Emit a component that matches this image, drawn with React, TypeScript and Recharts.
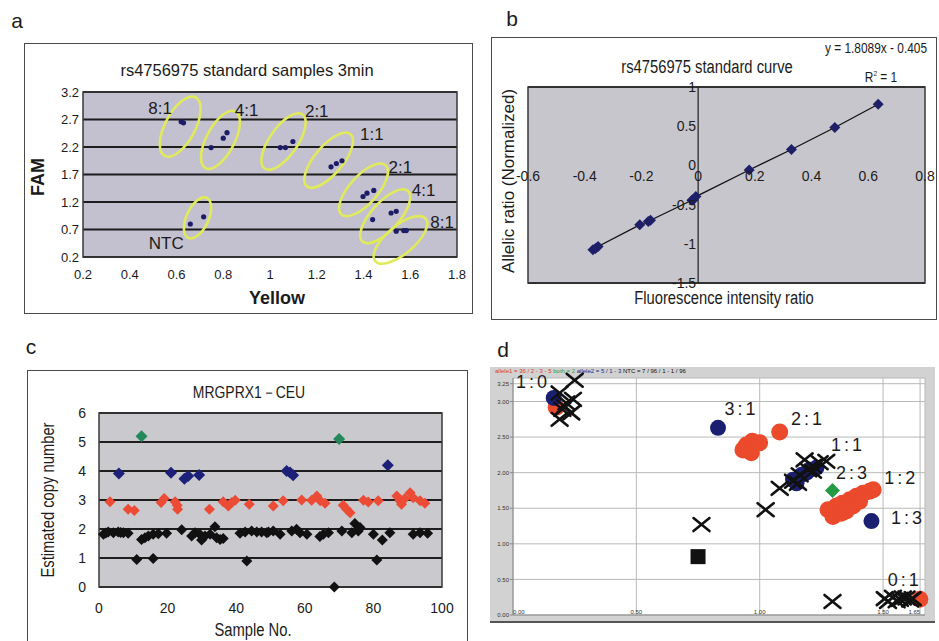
import React from "react";
import {
  ScatterChart,
  Scatter,
  XAxis,
  YAxis,
  CartesianGrid,
  ReferenceArea,
  ReferenceLine,
  ReferenceDot,
} from "recharts";

// ── panel a: standard samples, Yellow vs FAM ──
const A_YELLOW = [0.62, 0.63, 0.748, 0.8, 0.816, 1.044, 1.066, 1.098, 1.261, 1.284, 1.308, 1.398, 1.415, 1.444, 1.439, 1.518, 1.54, 1.54, 1.572, 1.583, 0.659, 0.716];
const A_FAM = [2.66, 2.64, 2.19, 2.36, 2.46, 2.19, 2.19, 2.3, 1.84, 1.9, 1.95, 1.3, 1.36, 1.41, 0.88, 1.0, 1.03, 0.67, 0.68, 0.68, 0.8, 0.93];
const A_GROUPS = ["8:1", "4:1", "2:1", "1:1", "2:1", "4:1", "8:1", "NTC"];
const A_GROUP_X = [0.616, 0.788, 1.058, 1.251, 1.4, 1.493, 1.558, 0.69];
const A_GROUP_Y = [2.57, 2.33, 2.3, 1.96, 1.42, 0.94, 0.51, 0.91];
const A_LABEL_X = [0.53, 0.9, 1.2, 1.436, 1.558, 1.657, 1.736, 0.556];
const A_LABEL_Y = [2.9, 2.87, 2.84, 2.42, 1.83, 1.41, 0.83, 0.45];
const A_XTICKS = [0.2, 0.4, 0.6, 0.8, 1, 1.2, 1.4, 1.6, 1.8];
const A_YTICKS = [0.2, 0.7, 1.2, 1.7, 2.2, 2.7, 3.2];

// ── panel b: standard curve ──
const B_X = [-0.371, -0.362, -0.353, -0.206, -0.176, -0.168, -0.022, -0.018, -0.008, 0.18, 0.329, 0.482, 0.635];
const B_Y = [-1.076, -1.06, -1.034, -0.758, -0.716, -0.7, -0.445, -0.44, -0.398, -0.059, 0.203, 0.483, 0.78];
const B_XTICKS = [-0.6, -0.4, -0.2, 0, 0.2, 0.4, 0.6, 0.8];
const B_YTICKS = [-1.5, -1, -0.5, 0, 0.5, 1];

// ── panel c: MRGPRX1 copy number, CEU ──
const C_CN2_X = [1.3, 2.0, 2.7, 4.2, 5.6, 6.3, 7.1, 8.5, 11.0, 12.4, 13.4, 14.4, 15.8, 15.8, 17.3, 19.7, 24.1, 27.0, 28.0, 29.4, 29.9, 30.9, 32.4, 33.8, 34.3, 35.3, 36.2, 41.1, 42.6, 43.1, 44.5, 46.0, 47.4, 48.9, 49.4, 50.8, 52.8, 56.2, 57.6, 58.6, 60.6, 64.4, 65.4, 66.9, 68.6, 70.8, 73.7, 74.6, 75.6, 76.1, 80.0, 81.0, 82.6, 84.8, 91.6, 93.6, 95.8];
const C_CN2_Y = [1.82, 1.86, 1.9, 1.87, 1.9, 1.88, 1.87, 1.85, 0.95, 1.64, 1.7, 1.76, 1.82, 0.98, 1.84, 1.85, 1.97, 1.76, 1.87, 1.82, 1.62, 1.76, 1.82, 2.08, 1.7, 1.64, 1.67, 1.85, 1.9, 0.9, 1.93, 1.9, 1.9, 1.87, 1.9, 1.93, 1.82, 1.93, 1.99, 1.87, 1.82, 1.74, 1.82, 1.87, 0, 1.93, 1.87, 2.19, 1.93, 2.05, 1.82, 0.93, 1.62, 1.87, 1.82, 1.87, 1.85];
const C_CN3_X = [3.2, 8.5, 10.3, 18.1, 19.0, 22.2, 22.8, 22.9, 32.2, 36.2, 37.7, 38.7, 39.7, 43.8, 50.8, 53.7, 59.1, 62.0, 63.5, 64.5, 65.9, 71.2, 72.2, 73.2, 77.1, 78.5, 81.4, 86.8, 87.7, 88.2, 89.2, 90.7, 91.6, 93.6, 95.0];
const C_CN3_Y = [2.94, 2.68, 2.64, 2.91, 3.05, 2.94, 2.82, 2.68, 2.68, 2.94, 2.79, 2.91, 2.99, 2.85, 2.79, 2.97, 3.0, 2.99, 3.14, 2.97, 2.89, 2.82, 2.68, 2.56, 2.99, 2.93, 2.97, 3.14, 2.97, 2.85, 3.05, 3.25, 3.08, 2.97, 2.89];
const C_CN4_X = [5.8, 21.0, 24.9, 26.0, 29.2, 54.7, 55.7, 56.6, 84.2];
const C_CN4_Y = [3.91, 3.94, 3.73, 3.83, 3.86, 4.0, 3.95, 3.85, 4.2];
const C_CN5_X = [12.4, 70.0];
const C_CN5_Y = [5.2, 5.1];
const C_XTICKS = [0, 20, 40, 60, 80, 100];
const C_YTICKS = [0, 1, 2, 3, 4, 5, 6];

// ── panel d: genotyping cluster plot ──
const D_CROSS_X = [0.189, 0.25, 0.216, 0.189, 0.236, 0.2, 0.243, 0.21, 0.764, 1.024, 1.081, 1.135, 1.162, 1.196, 1.216, 1.243, 1.27, 1.182, 1.216, 1.155, 1.295, 1.507, 1.52, 1.54, 1.555, 1.568, 1.58, 1.595, 1.61, 1.62];
const D_CROSS_Y = [3.12, 3.3, 2.98, 2.75, 2.84, 2.89, 3.03, 2.93, 1.27, 1.48, 1.78, 1.88, 1.97, 2.04, 2.09, 2.14, 2.16, 2.18, 2.02, 1.85, 0.19, 0.23, 0.19, 0.25, 0.2, 0.22, 0.24, 0.24, 0.21, 0.23];
const D_BLUE_X = [0.165, 0.831, 1.135, 1.17, 1.203, 1.23, 1.149, 1.19, 1.453];
const D_BLUE_Y = [3.05, 2.63, 1.9, 1.97, 2.04, 2.07, 1.85, 2.0, 1.32];
const D_RED_X = [0.175, 0.946, 0.97, 0.966, 0.932, 1.0, 1.081, 1.277, 1.311, 1.335, 1.365, 1.392, 1.419, 1.446, 1.46, 1.297, 1.331, 1.378, 1.351, 1.405, 1.649];
const D_RED_Y = [2.92, 2.39, 2.44, 2.28, 2.32, 2.42, 2.57, 1.48, 1.53, 1.57, 1.62, 1.67, 1.71, 1.74, 1.76, 1.385, 1.43, 1.53, 1.46, 1.6, 0.22];
const D_GREEN_X = [1.295];
const D_GREEN_Y = [1.75];
const D_NTC_X = [0.75];
const D_NTC_Y = [0.82];
const D_LABELS = ["1:0", "3:1", "2:1", "1:1", "2:3", "1:2", "1:3", "0:1"];
const D_LABEL_X = [0.081, 0.926, 1.196, 1.358, 1.378, 1.574, 1.601, 1.588];
const D_LABEL_Y = [3.27, 2.89, 2.75, 2.39, 2.0, 1.92, 1.36, 0.49];
const D_XTICKS = [0, 0.5, 1, 1.5, 1.65];
const D_YTICKS = [0, 0.5, 1, 1.5, 2, 2.5, 3, 3.25];

const SANS = "'Liberation Sans', Arial, sans-serif";
const INK = "#1b1b1b";
const NARROW = 0.82; // horizontal squeeze for the condensed Excel labels

// ellipse outline sizes for panel a groups (same order as A_GROUPS)
const ELLIPSE_STYLE = [
  { rx: 15, ry: 33, rot: 28 },
  { rx: 14, ry: 32, rot: 28 },
  { rx: 14, ry: 33, rot: 35 },
  { rx: 14, ry: 34, rot: 40 },
  { rx: 14, ry: 33, rot: 42 },
  { rx: 14, ry: 34, rot: 42 },
  { rx: 14, ry: 33, rot: 50 },
  { rx: 11, ry: 22, rot: 25 },
];

const zip = (xs: number[], ys: number[]) => xs.map((x, i) => ({ x, y: ys[i] }));

const dot = (color: string, r: number) => (p: any) => (
  <circle cx={p.cx} cy={p.cy} r={r} fill={color} />
);

const diamond = (color: string, s: number) => (p: any) => (
  <polygon
    points={`${p.cx},${p.cy - s} ${p.cx + s},${p.cy} ${p.cx},${p.cy + s} ${p.cx - s},${p.cy}`}
    fill={color}
  />
);

const cross = (p: any) => (
  <g stroke="#111" strokeWidth={2.6} strokeLinecap="round">
    <line x1={p.cx - 8} y1={p.cy - 6.5} x2={p.cx + 8} y2={p.cy + 6.5} />
    <line x1={p.cx - 8} y1={p.cy + 6.5} x2={p.cx + 8} y2={p.cy - 6.5} />
  </g>
);

const square = (p: any) => (
  <rect x={p.cx - 7.5} y={p.cy - 7.5} width={15} height={15} fill="#111" />
);

const ellipse = (p: any) => {
  const st = ELLIPSE_STYLE[p.payload.k];
  return (
    <ellipse
      cx={p.cx}
      cy={p.cy}
      rx={st.rx}
      ry={st.ry}
      transform={`rotate(${st.rot} ${p.cx} ${p.cy})`}
      fill="none"
      stroke="#e1ea5a"
      strokeWidth={2.6}
    />
  );
};

const textMark = (size: number, spacing: number) => (p: any) => (
  <text
    x={p.cx}
    y={p.cy}
    textAnchor="middle"
    dominantBaseline="central"
    fontSize={size}
    fontFamily={SANS}
    letterSpacing={spacing}
    fill={INK}
  >
    {p.payload.t}
  </text>
);

// tiny x tick of panel d: first label starts at the axis, last ends at it
const dTick = (p: any) => {
  const last = D_XTICKS.length - 1;
  const anchor = p.index === 0 ? "start" : p.index === last ? "end" : "middle";
  return (
    <text x={p.x} y={p.y - 3} textAnchor={anchor} fontSize={6} fill="#333" fontFamily={SANS}>
      {Number(p.payload.value).toFixed(2)}
    </text>
  );
};

function Txt({ x, y, size, children, squeeze = 1, bold = false, rotate = false, color = INK }: any) {
  return (
    <div
      style={{
        position: "absolute",
        left: x,
        top: y,
        transform: `translate(-50%, -50%)${rotate ? " rotate(-90deg)" : ""} scaleX(${squeeze})`,
        fontSize: size,
        fontFamily: SANS,
        fontWeight: bold ? 700 : 400,
        color,
        whiteSpace: "nowrap",
        lineHeight: 1,
      }}
    >
      {children}
    </div>
  );
}

function Box({ x, y, w, h }: any) {
  return (
    <div
      style={{
        position: "absolute",
        left: x,
        top: y,
        width: w,
        height: h,
        border: "1.5px solid #4a4a4a",
        boxSizing: "border-box",
      }}
    />
  );
}

function At({ x, y, children }: any) {
  return <div style={{ position: "absolute", left: x, top: y }}>{children}</div>;
}

function PanelA() {
  const pts = zip(A_YELLOW, A_FAM);
  const rings = A_GROUP_X.map((x, k) => ({ x, y: A_GROUP_Y[k], k }));
  const labels = A_LABEL_X.map((x, i) => ({ x, y: A_LABEL_Y[i], t: A_GROUPS[i] }));
  const tick = { fontSize: 13, fill: INK, fontFamily: SANS };
  return (
    <ScatterChart width={449} height={271} margin={{ top: 49, right: 16, bottom: 0, left: 0 }}>
      <CartesianGrid vertical={false} fill="#c3c1d0" stroke="#1d1d1d" strokeWidth={2} />
      <ReferenceArea x1={0.2} x2={1.8} y1={0.2} y2={3.2} fill="none" stroke="#3a3a3a" strokeWidth={1.5} />
      <XAxis type="number" dataKey="x" domain={[0.2, 1.8]} ticks={A_XTICKS} interval={0} height={57}
        axisLine={false} tickLine={false} tickSize={0} tickMargin={13} tick={tick} />
      <YAxis type="number" dataKey="y" domain={[0.2, 3.2]} ticks={A_YTICKS} interval={0} width={59}
        axisLine={false} tickLine={false} tickSize={0} tickMargin={4} tick={tick} />
      <Scatter data={rings} shape={ellipse} isAnimationActive={false} />
      <Scatter data={pts} shape={dot("#1d1d66", 2.6)} isAnimationActive={false} />
      <Scatter data={labels} shape={textMark(17, 0)} isAnimationActive={false} />
    </ScatterChart>
  );
}

function PanelB() {
  const pts = zip(B_X, B_Y);
  const lab = { fontSize: 14, fill: INK, fontFamily: SANS };
  return (
    <ScatterChart width={446} height={283} margin={{ top: 50, right: 12, bottom: 0, left: 0 }}>
      <CartesianGrid vertical={false} fill="#c7c6cd" stroke="#1d1d1d" strokeWidth={2} />
      <ReferenceArea x1={-0.6} x2={0.8} y1={-1.5} y2={1} fill="none" stroke="#3a3a3a" strokeWidth={1.5} />
      <XAxis type="number" dataKey="x" domain={[-0.6, 0.8]} ticks={B_XTICKS} height={37}
        axisLine={false} tickLine={false} tick={false} />
      <YAxis type="number" dataKey="y" domain={[-1.5, 1]} ticks={B_YTICKS} width={37}
        axisLine={false} tickLine={false} tick={false} />
      <ReferenceLine x={0} stroke="#1d1d1d" strokeWidth={1.2} />
      {B_YTICKS.map((v) => (
        <ReferenceDot key={"y" + v} x={0} y={v} r={0} fill="none" stroke="none"
          label={{ value: String(v), position: "left", offset: 2, ...lab }} />
      ))}
      {B_XTICKS.map((v) => (
        <ReferenceDot key={"x" + v} x={v} y={0} r={0} fill="none" stroke="none"
          label={{ value: String(v), position: "bottom", offset: 6, ...lab }} />
      ))}
      <Scatter data={pts} shape={diamond("#1f1f68", 5.5)} line={{ stroke: "#111", strokeWidth: 1.3 }}
        isAnimationActive={false} />
    </ScatterChart>
  );
}

function PanelC() {
  const tick = { fontSize: 14, fill: INK, fontFamily: SANS };
  return (
    <ScatterChart width={441} height={271} margin={{ top: 43, right: 26, bottom: 0, left: 0 }}>
      <CartesianGrid vertical={false} fill="#c9c9ce" stroke="#1d1d1d" strokeWidth={2} />
      <ReferenceArea x1={0} x2={100} y1={0} y2={6} fill="none" stroke="#3a3a3a" strokeWidth={1.5} />
      <XAxis type="number" dataKey="x" domain={[0, 100]} ticks={C_XTICKS} interval={0} height={54}
        axisLine={false} tickLine={false} tickSize={0} tickMargin={16} tick={tick} />
      <YAxis type="number" dataKey="y" domain={[0, 6]} ticks={C_YTICKS} interval={0} width={72}
        axisLine={false} tickLine={false} tickSize={0} tickMargin={13} tick={tick} />
      <Scatter data={zip(C_CN3_X, C_CN3_Y)} shape={diamond("#ec4b36", 5.5)} isAnimationActive={false} />
      <Scatter data={zip(C_CN2_X, C_CN2_Y)} shape={diamond("#111111", 5.5)} isAnimationActive={false} />
      <Scatter data={zip(C_CN4_X, C_CN4_Y)} shape={diamond("#1c2078", 6)} isAnimationActive={false} />
      <Scatter data={zip(C_CN5_X, C_CN5_Y)} shape={diamond("#24885a", 6)} isAnimationActive={false} />
    </ScatterChart>
  );
}

function PanelD() {
  const labels = D_LABEL_X.map((x, i) => ({ x, y: D_LABEL_Y[i], t: D_LABELS[i] }));
  const tick = { fontSize: 6, fill: "#333", fontFamily: SANS };
  return (
    <ScatterChart width={445} height={256} margin={{ top: 11, right: 10, bottom: 0, left: 0 }}>
      <CartesianGrid fill="#ffffff" stroke="#b9b9b9" strokeWidth={1} />
      <XAxis type="number" dataKey="x" domain={[0, 1.67]} ticks={D_XTICKS} interval={0} height={8}
        axisLine={{ stroke: "#888" }} tickLine={false} tickSize={0} tick={dTick} />
      <YAxis type="number" dataKey="y" domain={[0, 3.33]} ticks={D_YTICKS} interval={0} width={23}
        axisLine={{ stroke: "#888" }} tickLine={{ stroke: "#888" }} tickSize={3} tickMargin={1} tick={tick}
        tickFormatter={(v: number) => v.toFixed(2)} />
      <Scatter data={zip(D_RED_X, D_RED_Y)} shape={dot("#ec4a2c", 8.5)} isAnimationActive={false} />
      <Scatter data={zip(D_BLUE_X, D_BLUE_Y)} shape={dot("#1b1f72", 8)} isAnimationActive={false} />
      <Scatter data={zip(D_CROSS_X, D_CROSS_Y)} shape={cross} isAnimationActive={false} />
      <Scatter data={zip(D_GREEN_X, D_GREEN_Y)} shape={diamond("#249a45", 7.5)} isAnimationActive={false} />
      <Scatter data={zip(D_NTC_X, D_NTC_Y)} shape={square} isAnimationActive={false} />
      <Scatter data={labels} shape={textMark(18, 3)} isAnimationActive={false} />
    </ScatterChart>
  );
}

export default function App() {
  return (
    <div
      style={{
        position: "fixed",
        left: 0,
        top: 0,
        width: 939,
        height: 641,
        overflow: "hidden",
        background: "#fff",
        fontFamily: SANS,
      }}
    >
      {/* panel letters */}
      <Txt x={17} y={20} size={21}>a</Txt>
      <Txt x={512} y={18} size={21}>b</Txt>
      <Txt x={31} y={346} size={21}>c</Txt>
      <Txt x={503} y={349} size={21}>d</Txt>

      {/* a */}
      <Box x={24} y={43} w={449} h={271} />
      <At x={24} y={43}><PanelA /></At>
      <Txt x={247} y={70} size={16.5}>rs4756975 standard samples 3min</Txt>
      <Txt x={38} y={177} size={18} bold rotate>FAM</Txt>
      <Txt x={277} y={298} size={18} bold>Yellow</Txt>

      {/* b */}
      <Box x={491} y={37} w={446} h={283} />
      <At x={491} y={37}><PanelB /></At>
      <Txt x={707} y={67} size={18} squeeze={NARROW}>rs4756975 standard curve</Txt>
      <Txt x={876} y={48} size={14.5} squeeze={NARROW}>y = 1.8089x - 0.405</Txt>
      <Txt x={881} y={77} size={14.5} squeeze={NARROW}>R<sup style={{ fontSize: 8 }}>2</sup> = 1</Txt>
      <Txt x={508} y={181} size={17} rotate>Allelic ratio (Normalized)</Txt>
      <Txt x={724} y={298} size={18} squeeze={NARROW}>Fluorescence intensity ratio</Txt>

      {/* c */}
      <Box x={27} y={370} w={441} h={300} />
      <At x={27} y={370}><PanelC /></At>
      <Txt x={249} y={392} size={17} squeeze={NARROW}>MRGPRX1－CEU</Txt>
      <Txt x={48} y={500} size={18} squeeze={NARROW} rotate>Estimated copy number</Txt>
      <Txt x={253} y={630} size={18} squeeze={NARROW}>Sample No.</Txt>

      {/* d */}
      <div style={{ position: "absolute", left: 490, top: 367, width: 445, height: 256, background: "#d2d2d2" }} />
      <At x={490} y={367}><PanelD /></At>
      <div style={{ position: "absolute", left: 490, top: 621, width: 445, height: 2, background: "#555" }} />
      <div style={{ position: "absolute", left: 495, top: 368, fontSize: 6, fontFamily: SANS, whiteSpace: "nowrap", lineHeight: 1 }}>
        <span style={{ color: "#e0392a" }}>allele1 = 36 / 2 - 3 - 5</span>{" "}
        <span style={{ color: "#2a9a45" }}>both = 2</span>{"  "}
        <span style={{ color: "#1b1f8a" }}>allele2 = 5 / 1 - 3</span>{"  "}
        <span style={{ color: "#111" }}>NTC = 7 / 96 / 1 - 1 / 96</span>
      </div>
    </div>
  );
}
